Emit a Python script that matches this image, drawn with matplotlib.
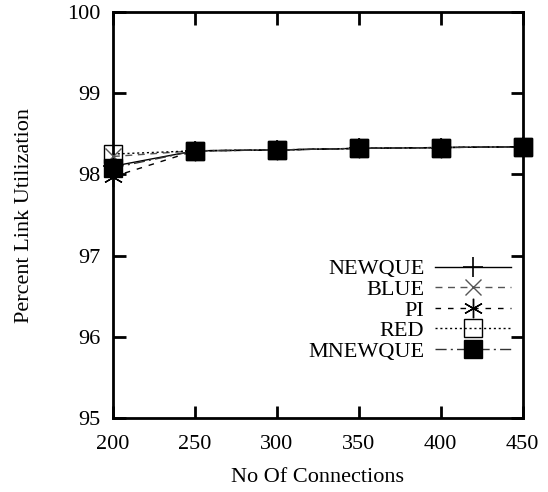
import matplotlib
matplotlib.use("Agg")
import matplotlib.pyplot as plt

plt.rcParams["font.family"] = ["Liberation Serif", "DejaVu Serif"]

conns = [200, 250, 300, 350, 400, 450]
newque = [98.10, 98.29, 98.30, 98.32, 98.33, 98.34]
blue = [98.22, 98.29, 98.30, 98.32, 98.33, 98.34]
pi = [97.97, 98.29, 98.30, 98.32, 98.33, 98.34]
red = [98.25, 98.29, 98.30, 98.32, 98.33, 98.34]
mnewque = [98.08, 98.29, 98.30, 98.32, 98.33, 98.34]

fig = plt.figure(figsize=(5.48, 4.92), dpi=100)
ax = fig.add_axes([0.206, 0.150, 0.748, 0.826])

kw = dict(clip_on=False, zorder=3)
ax.plot(conns, newque, color="k", lw=1.0, ls="-", marker="+", ms=14, mew=1.2, label="NEWQUE", **kw)
ax.plot(conns, blue, color="#555555", lw=1.0, ls=(0, (5, 4)), marker="x", ms=12, mew=1.0, label="BLUE", **kw)
ax.plot(conns, pi, color="k", lw=1.0, ls=(0, (4, 5)), marker=(6, 2, 0), ms=14, mew=1.0, label="PI", **kw)
ax.plot(conns, red, color="k", lw=1.0, ls=(0, (1.5, 2)), marker="s", ms=13, mfc="none", mew=1.0,
        label="RED", **kw)
ax.plot(conns, mnewque, color="#333333", lw=1.0, ls=(0, (8, 3, 1.5, 3)), marker="s", ms=13,
        mfc="k", mec="k", label="MNEWQUE", **kw)

ax.set_xlim(200, 450)
ax.set_ylim(95, 100)
ax.set_xticks(conns)
ax.set_yticks([95, 96, 97, 98, 99, 100])
ax.tick_params(direction="in", length=9, width=2, top=True, right=True, labelsize=16)
ax.tick_params(axis="x", pad=12)
ax.tick_params(axis="y", pad=9)
for s in ax.spines.values():
    s.set_linewidth(2)

ax.set_xlabel("No Of Connections", fontsize=16, labelpad=10)
ax.set_ylabel("Percent Link Utilization", fontsize=16, labelpad=24)

ax.legend(loc="lower right", bbox_to_anchor=(1.02, 0.09), frameon=False, markerfirst=False,
          fontsize=16, handlelength=3.4, labelspacing=0.0, handletextpad=0.5)

fig.savefig("out.png", dpi=100)
